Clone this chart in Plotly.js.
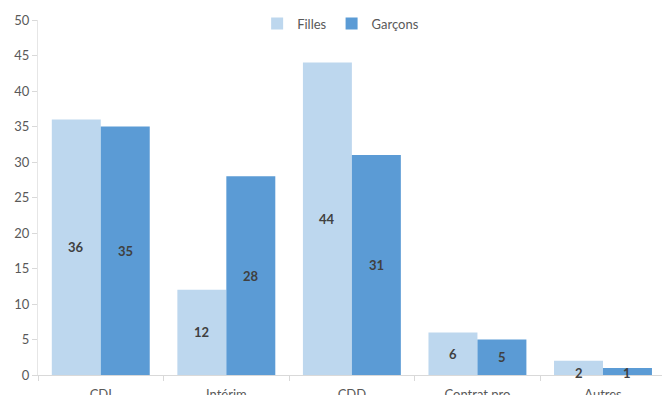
<!DOCTYPE html>
<html><head><meta charset="utf-8">
<script src="https://cdn.plot.ly/plotly-3.0.1.min.js"></script>
<style>html,body{margin:0;padding:0;background:#fff}#c{width:662px;height:395px}</style>
</head><body><div id="c"></div>
<script>
var categories = ["CDI", "Intérim", "CDD", "Contrat pro", "Autres"];
var filles = [36, 12, 44, 6, 2];
var garcons = [35, 28, 31, 5, 1];
var seriesNames = ["Filles", "Garçons"];

var bargap = 0.22;
var off = (1 - bargap) / 4;
var traces = [
  {type:"bar", name:seriesNames[0], x:categories, y:filles, marker:{color:"#BDD7EE"}, hoverinfo:"none"},
  {type:"bar", name:seriesNames[1], x:categories, y:garcons, marker:{color:"#5B9BD5"}, hoverinfo:"none"}
];
var ann = [];
function addLabels(vals, shift){
  vals.forEach(function(v,i){
    ann.push({x:i+shift, y:(v<3?0.3:v/2), xref:"x", yref:"y", text:"<b>"+v+"</b>", showarrow:false,
      font:{family:"Lato, 'Open Sans', sans-serif", size:13, color:"#404040"}, yanchor:"middle"});
  });
}
addLabels(filles, -off);
addLabels(garcons, off);

var layout = {
  width:662, height:395,
  margin:{l:38, r:0, t:20, b:20},
  paper_bgcolor:"#fff", plot_bgcolor:"#fff",
  barmode:"group", bargap:bargap, bargroupgap:0,
  font:{family:"Lato, 'Open Sans', sans-serif", size:13, color:"#595959"},
  xaxis:{type:"category", range:[-0.5, 4.47], showline:true, linecolor:"#d9d9d9", linewidth:1,
    ticks:"outside", tickson:"boundaries", ticklen:5, tickcolor:"#d9d9d9", showgrid:false, zeroline:false,
    ticklabelstandoff:7, tickfont:{size:13, color:"#595959"}, fixedrange:true},
  yaxis:{range:[0,50], dtick:5, showline:true, linecolor:"#e6e6e6", linewidth:1,
    ticks:"outside", ticklen:5, tickcolor:"#d9d9d9", showgrid:false, zeroline:false,
    tickfont:{size:13, color:"#595959"}, fixedrange:true},
  legend:{orientation:"h", x:0.485, xanchor:"center", y:0.99, yanchor:"middle",
    font:{size:13, color:"#595959"}, itemwidth:30, traceorder:"normal"},
  annotations:ann,
  showlegend:true
};
Plotly.newPlot("c", traces, layout, {displayModeBar:false, staticPlot:true});
</script></body></html>
